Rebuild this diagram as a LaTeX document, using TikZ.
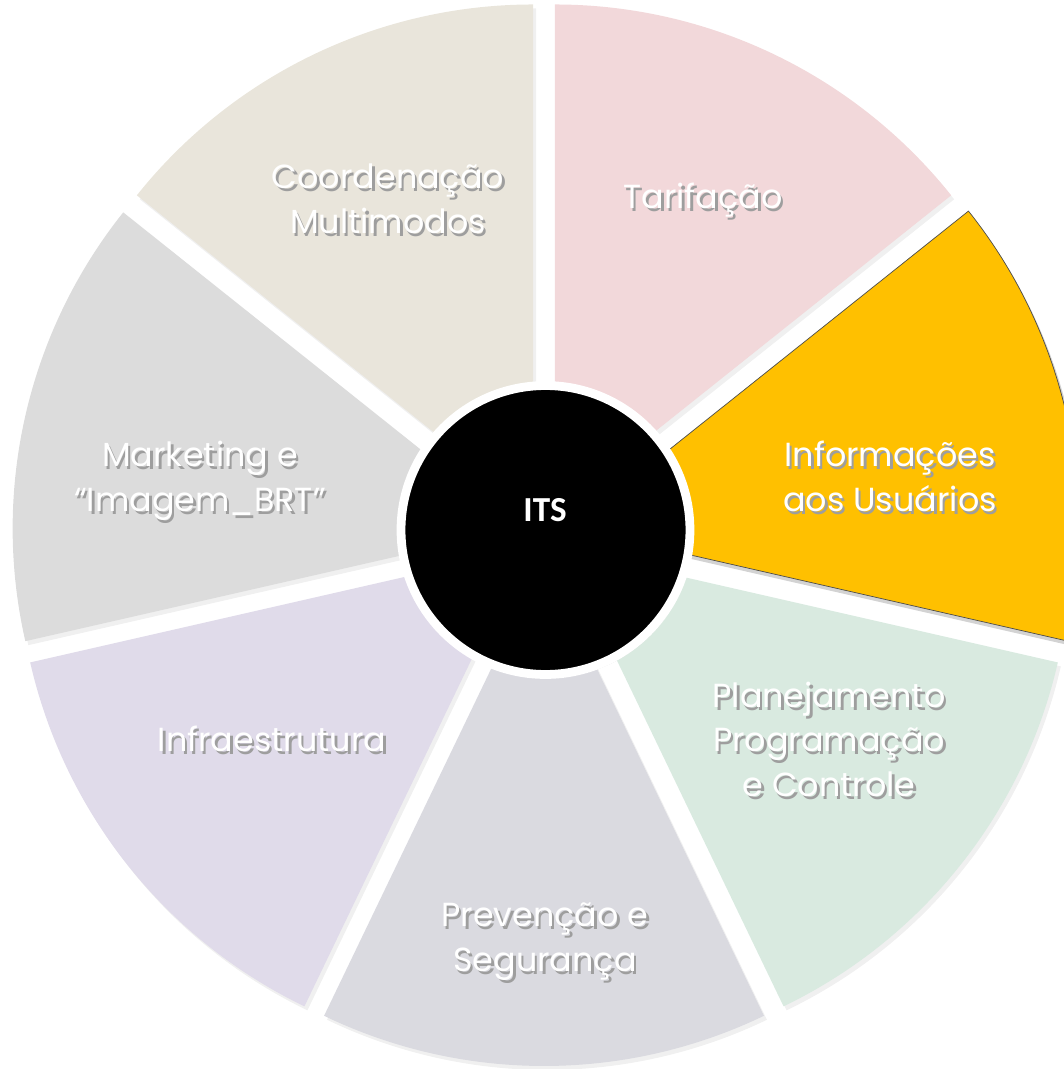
\documentclass[tikz,border=0pt]{standalone}
\usepackage{fontspec}
\setmainfont{Poppins}
\newfontfamily\itsfont{Carlito}
\usetikzlibrary{shadows}

\definecolor{tarifcol}{HTML}{F2D8DA}
\definecolor{infocol}{HTML}{FFC000}
\definecolor{planocol}{HTML}{D9EAE0}
\definecolor{prevcol}{HTML}{DADAE0}
\definecolor{infracol}{HTML}{E0DBEA}
\definecolor{mktcol}{HTML}{DCDCDC}
\definecolor{coordcol}{HTML}{E9E5DB}

% white text with a grey copy set a little lower right
\newcommand{\shadowed}[1]{%
  \makebox[0pt][l]{\hspace{0.5mm}\raisebox{-0.6mm}[0pt][0pt]{\color{black!38}\begin{tabular}{@{}c@{}}#1\end{tabular}}}%
  \begin{tabular}{@{}c@{}}#1\end{tabular}}

\tikzset{
  slice/.style={drop shadow={opacity=0.12, shadow xshift=0.6mm, shadow yshift=-0.8mm}},
  hilite/.style={draw=black!70, line width=0.4pt, drop shadow={opacity=0.35, shadow xshift=0.6mm, shadow yshift=-0.9mm}},
  seglabel/.style={text=white, inner sep=0pt, font=\fontsize{19}{25.5}\selectfont},
}

\begin{document}
\begin{tikzpicture}[scale=0.02]
\useasboundingbox (-544,-535) rectangle (520,534);
\clip (-544,-535) rectangle (520,534);

% --- Slices ---
\foreach \b/\col in {64.29/tarifcol, -38.57/planocol, -90/prevcol, -141.43/infracol, 167.14/mktcol, 115.71/coordcol} {
  \fill[\col, slice] (\b:25) -- ++(\b+25.71:507) arc[start angle=\b+25.71, end angle=\b-25.71, radius=507] -- cycle;
}

% highlighted slice
\path[fill=infocol, hilite] (12.86:28) -- ++(38.57:508) arc[start angle=38.57, end angle=-12.86, radius=508] -- cycle;

% --- Hub ---
\node[circle, fill=black, draw=white, line width=5pt, minimum size=57.8mm, drop shadow={opacity=0.3, shadow xshift=0.5mm, shadow yshift=-0.7mm}] (hub) at (1.5,4) {};
\node[text=white, font=\itsfont\bfseries\fontsize{20}{24}\selectfont] (its) at (1,24) {ITS};

% --- Labels ---
\foreach \name/\pos/\txt in {
  tarif/{(159,334)}/{Tarifação},
  info/{(346,54)}/{Informações\\aos Usuários},
  plano/{(285,-209)}/{Planejamento\\Programação\\e Controle},
  prev/{(1,-406)}/{Prevenção e\\Segurança},
  infra/{(-272,-209)}/{Infraestrutura},
  mkt/{(-344,54)}/{Marketing e\\“Imagem\_BRT”},
  coord/{(-156,332)}/{Coordenação\\Multimodos}} {
  \node[seglabel] (\name) at \pos {\shadowed{\txt}};
}

\end{tikzpicture}
\end{document}
